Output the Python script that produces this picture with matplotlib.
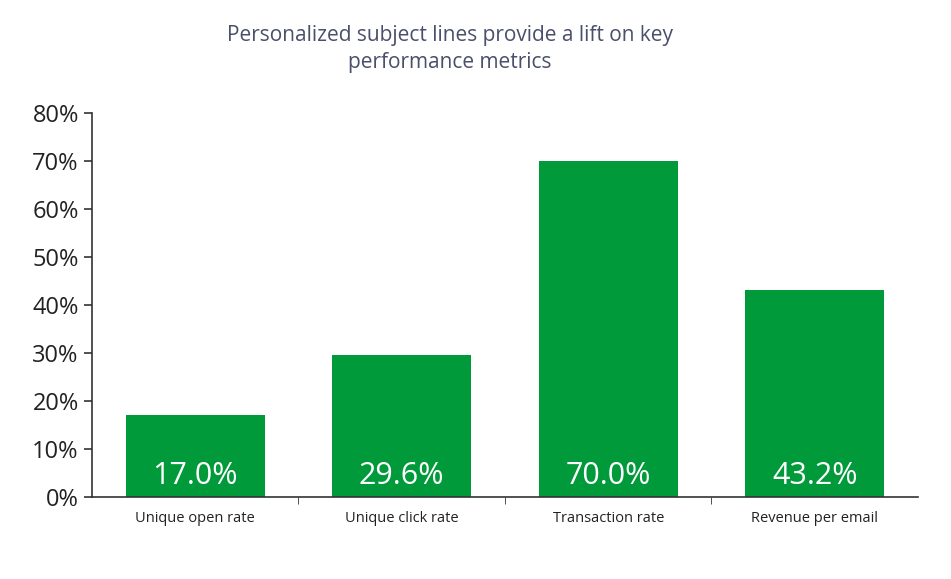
import matplotlib.pyplot as plt
import numpy as np

categories = ["Unique open rate", "Unique click rate", "Transaction rate", "Revenue per email"]
lift = [17.0, 29.6, 70.0, 43.2]
yticks = [0, 10, 20, 30, 40, 50, 60, 70, 80]

green = "#009a3a"

fig = plt.figure(figsize=(9.51, 5.79), dpi=100)
ax = fig.add_axes([0.0967, 0.1416, 0.8686, 0.663])

x = np.arange(len(categories))
ax.bar(x, lift, width=0.675, color=green)
for xi, v in zip(x, lift):
    ax.text(xi, 1.2, f"{v:.1f}%", ha="center", va="bottom", color="white",
            fontsize=22, family="Open Sans")

ax.set_xlim(-0.5, 3.5)
ax.set_ylim(0, 80)
ax.set_yticks(yticks)
ax.set_yticklabels([f"{t}%" for t in yticks], fontsize=17, color="#222222", family="Open Sans")
ax.set_xticks(x)
ax.set_xticklabels(categories, fontsize=10.5, color="#222222", family="Open Sans")
ax.tick_params(axis="x", length=0, pad=10)
ax.set_xticks([0.5, 1.5, 2.5], minor=True)
ax.tick_params(axis="x", which="minor", length=5, color="#333333")
ax.tick_params(axis="y", length=6, color="#333333", width=1.2)
for s in ["top", "right"]:
    ax.spines[s].set_visible(False)
for s in ["left", "bottom"]:
    ax.spines[s].set_color("#333333")
    ax.spines[s].set_linewidth(1.2)

fig.text(0.473, 0.915, "Personalized subject lines provide a lift on key\nperformance metrics",
         ha="center", va="center", fontsize=15, color="#4a4f6a", family="Open Sans",
         linespacing=1.4)

fig.savefig("out.png")
